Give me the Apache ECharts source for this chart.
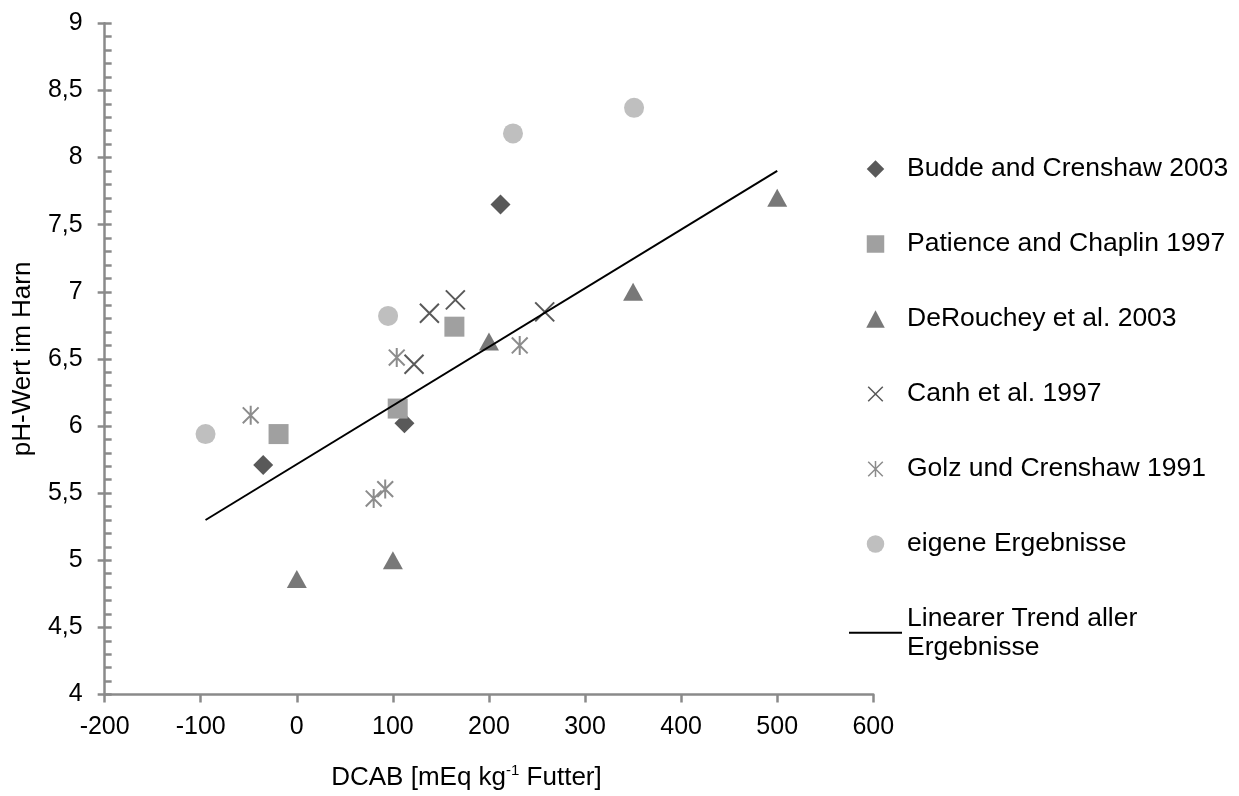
<!DOCTYPE html>
<html>
<head>
<meta charset="utf-8">
<script src="https://cdn.jsdelivr.net/npm/echarts@6/dist/echarts.min.js"></script>
<style>
  html, body { margin: 0; padding: 0; background: #fff; }
  #chart { width: 1239px; height: 796px; }
</style>
</head>
<body>
<div id="chart"></div>
<script>
// DCAB [mEq/kg feed] vs. urine pH, one array per study
const budde = [[-35, 5.71], [112, 6.02], [212, 7.65]];
const patience = [[-19, 5.94], [105, 6.13], [164, 6.74]];
const derouchey = [[0, 4.86], [100, 5.00], [200, 6.63], [350, 7.00], [500, 7.70]];
const canh = [[122, 6.46], [138, 6.84], [165, 6.94], [258, 6.85]];
const golz = [[-48, 6.08], [80, 5.46], [92, 5.53], [104, 6.51], [232, 6.60]];
const eigene = [[-95, 5.94], [95, 6.82], [225, 8.18], [351, 8.37]];
// end points of the linear trend over all results
const trend = [[-95, 5.30], [500, 7.90]];

const xTicks = { min: -200, max: 600, interval: 100 };
const yTicks = { min: 4, max: 9, interval: 0.5 };

const FONT = '"Liberation Sans", Arial, sans-serif';
const AXIS_GREY = '#8a8a8a';

// marker shapes in the plot
const crossPath = 'path://M0,0L20,20M20,0L0,20';
const starPath = 'path://M0,0L20,20M20,0L0,20M10,-2L10,22';
// legend icons (paths keep their aspect ratio inside the wide legend box;
// the leading moveTo points leave a small margin around the cross shapes)
const diamondIcon = 'path://M9,0L18,9L9,18L0,9Z';
const squareIcon = 'path://M0,0h18v18h-18z';
const triangleIcon = 'path://M9,0L18,17L0,17Z';
const crossIcon = 'path://M-2,-2M22,22M0,0L20,20M20,0L0,20';
const starIcon = 'path://M-2,-2M22,22M0,0L20,20M20,0L0,20M10,-1L10,21';
const dashIcon = 'path://M0,0h53v2h-53z';

const chart = echarts.init(document.getElementById('chart'));

const yFmt = v => String(v).replace('.', ',');

chart.setOption({
  backgroundColor: '#ffffff',
  animation: false,
  textStyle: { fontFamily: FONT },
  grid: { left: 104.5, right: 365.7, top: 23.3, bottom: 96 },
  xAxis: {
    type: 'value',
    min: xTicks.min, max: xTicks.max, interval: xTicks.interval,
    name: '{a|DCAB [mEq kg}{s|-1}{a| Futter]}',
    nameLocation: 'middle',
    nameGap: 69,
    nameTextStyle: {
      padding: [0, 45, 0, 0],
      rich: {
        a: { fontFamily: FONT, fontSize: 26, color: '#000', lineHeight: 29 },
        s: { fontFamily: FONT, fontSize: 15, color: '#000', lineHeight: 29, verticalAlign: 'top', padding: [0, 0, 10, 0] }
      }
    },
    axisLine: { onZero: false, lineStyle: { color: AXIS_GREY, width: 2.5 } },
    axisTick: { show: true, inside: false, length: 8, lineStyle: { color: AXIS_GREY, width: 2.5 } },
    splitLine: { show: false },
    axisLabel: { fontFamily: FONT, fontSize: 25, color: '#000', margin: 18, lineHeight: 30 }
  },
  yAxis: [
    {
      type: 'value',
      min: yTicks.min, max: yTicks.max, interval: yTicks.interval,
      name: 'pH-Wert im Harn',
      nameLocation: 'middle',
      nameGap: 67,
      nameTextStyle: { fontFamily: FONT, fontSize: 26, color: '#000', lineHeight: 29 },
      axisLine: { onZero: false, lineStyle: { color: AXIS_GREY, width: 2.5 } },
      axisTick: { show: true, inside: true, length: 7, lineStyle: { color: AXIS_GREY, width: 2.5 } },
      minorTick: { show: true, splitNumber: 5, length: 7, lineStyle: { color: AXIS_GREY, width: 2.5 } },
      splitLine: { show: false },
      minorSplitLine: { show: false },
      axisLabel: { fontFamily: FONT, fontSize: 25, color: '#000', margin: 22, formatter: yFmt }
    },
    {
      // outer half of the major ticks
      type: 'value',
      position: 'left',
      offset: 0,
      min: yTicks.min, max: yTicks.max, interval: yTicks.interval,
      axisLine: { show: false, onZero: false },
      axisTick: { show: true, inside: false, length: 7, lineStyle: { color: AXIS_GREY, width: 2.5 } },
      axisLabel: { show: false },
      splitLine: { show: false }
    }
  ],
  legend: [
    {
      orient: 'vertical',
      left: 866,
      top: 155,
      padding: 0,
      itemWidth: 53,
      itemHeight: 17.5,
      itemGap: 47,
      textStyle: { fontFamily: FONT, fontSize: 26.5, color: '#000', lineHeight: 28 },
      data: [
        { name: 'Budde and Crenshaw 2003', icon: diamondIcon },
        { name: 'Patience and Chaplin 1997', icon: squareIcon },
        { name: 'DeRouchey et al. 2003', icon: triangleIcon },
        { name: 'Canh et al. 1997', icon: crossIcon, itemStyle: { color: 'rgba(0,0,0,0)', borderColor: '#595959', borderWidth: 1.5 } },
        { name: 'Golz und Crenshaw 1991', icon: starIcon, itemStyle: { color: 'rgba(0,0,0,0)', borderColor: '#8c8c8c', borderWidth: 1.5 } },
        { name: 'eigene Ergebnisse', icon: 'circle' }
      ]
    },
    {
      orient: 'vertical',
      left: 849,
      top: 589.3,
      padding: 0,
      itemWidth: 53,
      itemHeight: 16,
      textStyle: { fontFamily: FONT, fontSize: 26.5, color: '#000', lineHeight: 29, padding: [29, 0, 0, 0] },
      formatter: () => 'Linearer Trend aller\nErgebnisse',
      data: [{ name: 'Linearer Trend aller Ergebnisse', icon: dashIcon }]
    }
  ],
  series: [
    {
      name: 'Budde and Crenshaw 2003', type: 'scatter', data: budde,
      symbol: 'diamond', symbolSize: 20,
      itemStyle: { color: '#595959', opacity: 1 }
    },
    {
      name: 'Patience and Chaplin 1997', type: 'scatter', data: patience,
      symbol: 'rect', symbolSize: 20,
      itemStyle: { color: '#a0a0a0', opacity: 1 }
    },
    {
      name: 'DeRouchey et al. 2003', type: 'scatter', data: derouchey,
      symbol: 'triangle', symbolSize: [20, 18],
      itemStyle: { color: '#787878', opacity: 1 }
    },
    {
      name: 'Canh et al. 1997', type: 'scatter', data: canh,
      symbol: crossPath, symbolSize: 19, symbolKeepAspect: true,
      itemStyle: { color: 'rgba(0,0,0,0)', borderColor: '#595959', borderWidth: 2, opacity: 1 }
    },
    {
      name: 'Golz und Crenshaw 1991', type: 'scatter', data: golz,
      symbol: starPath, symbolSize: 19, symbolKeepAspect: true,
      itemStyle: { color: 'rgba(0,0,0,0)', borderColor: '#8c8c8c', borderWidth: 2, opacity: 1 }
    },
    {
      name: 'eigene Ergebnisse', type: 'scatter', data: eigene,
      symbol: 'circle', symbolSize: 20,
      itemStyle: { color: '#bfbfbf', opacity: 1 }
    },
    {
      name: 'Linearer Trend aller Ergebnisse', type: 'line', data: trend,
      symbol: 'none', showSymbol: false, z: 5,
      lineStyle: { color: '#000', width: 2 },
      itemStyle: { color: '#000' }
    }
  ]
});
</script>
</body>
</html>
